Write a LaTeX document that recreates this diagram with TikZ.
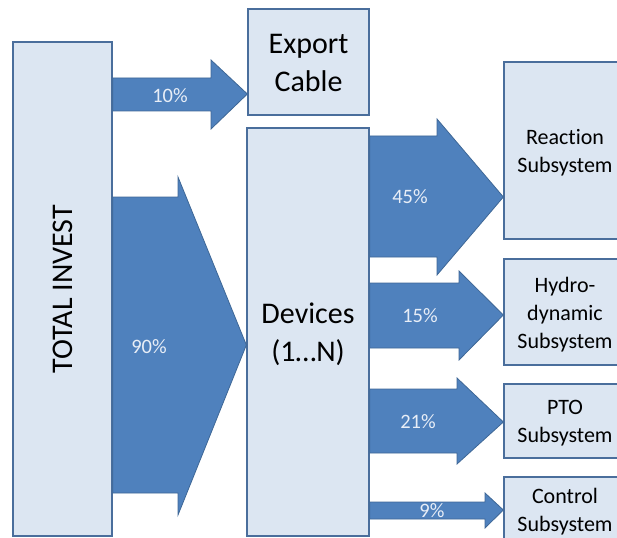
\documentclass[tikz,border=0pt]{standalone}
\usepackage{fontspec}
\setmainfont{Carlito}[Ligatures={TeX,NoCommon}]
\definecolor{boxfill}{HTML}{DCE6F2}
\definecolor{boxline}{HTML}{4A6E9C}
\definecolor{arrfill}{HTML}{4F81BD}
\definecolor{arrline}{HTML}{3E6796}
\definecolor{pcttext}{HTML}{E8EEF7}
\begin{document}
\begin{tikzpicture}[x=1pt,y=-1pt,
  box/.style={draw=boxline,fill=boxfill,line width=1.3pt,inner sep=0pt},
  txt/.style={align=center,text=black,inner sep=0pt},
  big/.style={txt,font=\fontsize{30}{37.5}\selectfont},
  small/.style={txt,font=\fontsize{22}{28}\selectfont},
  flow/.style={fill=arrfill,draw=arrline,line width=0.8pt,line join=miter},
  pct/.style={text=pcttext,font=\fontsize{20.5}{22}\selectfont,inner sep=0pt}]
\useasboundingbox (0,0) rectangle (617,537);
\clip (0,0) rectangle (617,537);
% boxes
\node[box,minimum width=99pt,minimum height=494pt] (total) at (62.5,289) {};
\node[big,rotate=90] (totaltxt) at (total.center) {TOTAL INVEST};
\node[box,minimum width=121pt,minimum height=106pt] (export) at (308.5,62) {};
\node[big] (exporttxt) at ([yshift=-1pt]export.center) {Export\\Cable};
\node[box,minimum width=122pt,minimum height=408pt] (devices) at (308,332) {};
\node[big] (devicestxt) at ([yshift=-2.5pt]devices.center) {Devices\\(1…N)};
\node[box,minimum width=122pt,minimum height=177pt] (reaction) at (565,150.5) {};
\node[small] (reactiontxt) at ([yshift=-2pt]reaction.center) {Reaction\\Subsystem};
\node[box,minimum width=122pt,minimum height=106pt] (hydro) at (565,312) {};
\node[small] (hydrotxt) at ([yshift=-2.5pt]hydro.center) {Hydro-\\dynamic\\Subsystem};
\node[box,minimum width=122pt,minimum height=74pt] (pto) at (565,421) {};
\node[small] (ptotxt) at ([yshift=-2.5pt]pto.center) {PTO\\Subsystem};
\node[box,minimum width=122pt,minimum height=64pt] (control) at (565,509) {};
\node[small] (controltxt) at ([yshift=-2.5pt]control.center) {Control\\Subsystem};
% flow arrows
\draw[flow] (total.east |- 0,78) -- (211,78) -- (211,60) -- (export.west |- 0,94) -- (211,129) -- (211,111) -- (total.east |- 0,111) -- cycle;
\draw[flow] (total.east |- 0,197) -- (178,197) -- (178,177) -- (devices.west |- 0,345) -- (178,515) -- (178,493) -- (total.east |- 0,493) -- cycle;
\draw[flow] (devices.east |- 0,136) -- (437,136) -- (437,119) -- (reaction.west |- 0,197) -- (437,275) -- (437,257) -- (devices.east |- 0,257) -- cycle;
\draw[flow] (devices.east |- 0,283) -- (459,283) -- (459,271) -- (hydro.west |- 0,315) -- (459,360) -- (459,348) -- (devices.east |- 0,348) -- cycle;
\draw[flow] (devices.east |- 0,389) -- (457,389) -- (457,378) -- (pto.west |- 0,422) -- (457,464) -- (457,453) -- (devices.east |- 0,453) -- cycle;
\draw[flow] (devices.east |- 0,502) -- (485,502) -- (485,493) -- (control.west |- 0,510) -- (485,528) -- (485,519) -- (devices.east |- 0,519) -- cycle;
% labels
\node[pct] (p10) at (170,96) {10\%};
\node[pct] (p90) at (149,347) {90\%};
\node[pct] (p45) at (410,197) {45\%};
\node[pct] (p15) at (420,316) {15\%};
\node[pct] (p21) at (418,422) {21\%};
\node[pct] (p9) at (432,511) {9\%};
\end{tikzpicture}
\end{document}
